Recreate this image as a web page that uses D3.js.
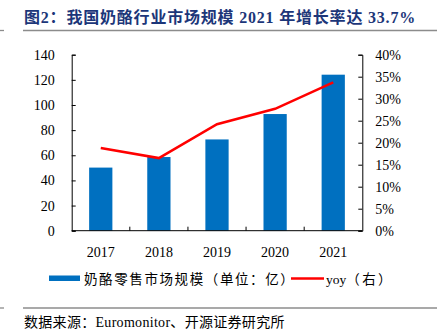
<!DOCTYPE html>
<html>
<head>
<meta charset="utf-8">
<script src="https://cdn.jsdelivr.net/npm/d3@7"></script>
<style>
  html, body { margin: 0; padding: 0; background: #fff; }
  svg { display: block; }
  .num { font-family: "Liberation Serif", "Times New Roman", serif; }
  .cjk { font-family: "Liberation Serif", "Noto Sans CJK SC", serif; }
</style>
</head>
<body>
<div id="chart"></div>
<script>
// cheese retail market size (100m CNY) and year-over-year growth
const years = ["2017", "2018", "2019", "2020", "2021"];
const marketSize = [50.2, 58.6, 72.6, 92.8, 124.1];
const yoy = [18.8, 16.5, 24.2, 27.7, 33.7];
const leftTicks = [0, 20, 40, 60, 80, 100, 120, 140];
const rightTicks = [0, 5, 10, 15, 20, 25, 30, 35, 40];

const W = 437, H = 335;
const plot = { left: 71.7, right: 362.3, top: 54.7, bottom: 230.7 };

const svg = d3.select("#chart").append("svg")
    .attr("width", W)
    .attr("height", H);

// --- TITLE + RULES ---
svg.append("text")
    .attr("class", "cjk")
    .attr("x", 24)
    .attr("y", 23)
    .attr("fill", "#1c3679")
    .attr("font-size", "16px")
    .attr("font-weight", "bold")
    .attr("letter-spacing", "0.8px")
    .text("图2：我国奶酪行业市场规模 2021 年增长率达 33.7%");

[30.5, 308].forEach(y => {
    svg.append("line").attr("x1", 0).attr("x2", 4).attr("y1", y).attr("y2", y)
        .attr("stroke", "#8c8c8c").attr("stroke-width", 1.3);
    svg.append("line").attr("x1", 23).attr("x2", W).attr("y1", y).attr("y2", y)
        .attr("stroke", "#8c8c8c").attr("stroke-width", 1.3);
});

// --- SCALES ---
const x = d3.scaleBand().domain(years).range([plot.left, plot.right]).paddingInner(0).paddingOuter(0);
const yL = d3.scaleLinear().domain([0, 140]).range([plot.bottom, plot.top]);
const yR = d3.scaleLinear().domain([0, 40]).range([plot.bottom, plot.top]);
const barW = x.bandwidth() * 0.4;

// --- BARS ---
svg.append("g")
    .selectAll("rect")
    .data(years)
    .join("rect")
    .attr("x", d => x(d) + (x.bandwidth() - barW) / 2)
    .attr("y", (d, i) => yL(marketSize[i]))
    .attr("width", barW)
    .attr("height", (d, i) => plot.bottom - yL(marketSize[i]))
    .attr("fill", "#0070c0");

// --- AXES ---
const axisStyle = g => {
    g.select(".domain").attr("stroke", "#000").attr("stroke-width", 1);
    g.selectAll(".tick line").attr("stroke", "#000");
    g.selectAll(".tick text")
        .attr("class", "num")
        .attr("fill", "#000")
        .attr("font-size", "14px");
};

svg.append("g")
    .attr("transform", `translate(${plot.left},0)`)
    .call(d3.axisLeft(yL).tickValues(leftTicks).tickSizeInner(-4).tickSizeOuter(-4).tickPadding(17))
    .call(axisStyle);

svg.append("g")
    .attr("transform", `translate(${plot.right},0)`)
    .call(d3.axisRight(yR).tickValues(rightTicks).tickSizeInner(-4).tickSizeOuter(-4).tickPadding(13)
        .tickFormat(d => d + "%"))
    .call(axisStyle);

// x axis: ticks sit on category boundaries, pointing up
const xAxis = svg.append("g").attr("transform", `translate(0,${plot.bottom})`);
xAxis.append("line")
    .attr("x1", plot.left).attr("x2", plot.right)
    .attr("stroke", "#000");
xAxis.selectAll("line.tk")
    .data(years.slice(1))
    .join("line")
    .attr("class", "tk")
    .attr("x1", d => x(d)).attr("x2", d => x(d))
    .attr("y1", 0).attr("y2", -4)
    .attr("stroke", "#000");
xAxis.selectAll("text")
    .data(years)
    .join("text")
    .attr("class", "num")
    .attr("x", d => x(d) + x.bandwidth() / 2)
    .attr("y", 26)
    .attr("text-anchor", "middle")
    .attr("font-size", "14px")
    .text(d => d);

// --- YOY LINE ---
const line = d3.line()
    .x((d, i) => x(years[i]) + x.bandwidth() / 2)
    .y(d => yR(d));

svg.append("path")
    .datum(yoy)
    .attr("d", line)
    .attr("fill", "none")
    .attr("stroke", "#ff0000")
    .attr("stroke-width", 2.5);

// --- LEGEND ---
const legend = svg.append("g");
legend.append("rect")
    .attr("x", 49).attr("y", 275.5)
    .attr("width", 31).attr("height", 5.5)
    .attr("fill", "#0070c0");
legend.append("text")
    .attr("class", "cjk")
    .attr("x", 84).attr("y", 284)
    .attr("font-size", "13.5px")
    .attr("letter-spacing", "1.6px")
    .text("奶酪零售市场规模（单位：亿）");
legend.append("line")
    .attr("x1", 291).attr("x2", 324)
    .attr("y1", 278.5).attr("y2", 278.5)
    .attr("stroke", "#ff0000").attr("stroke-width", 2.5);
const yoyLabel = legend.append("text")
    .attr("class", "cjk")
    .attr("x", 326).attr("y", 284)
    .attr("font-size", "13.5px");
yoyLabel.append("tspan").text("yoy");
yoyLabel.append("tspan").attr("letter-spacing", "2.4px").text("（右）");

// --- SOURCE ---
svg.append("text")
    .attr("class", "cjk")
    .attr("x", 24).attr("y", 327)
    .attr("font-size", "14px")
    .attr("letter-spacing", "0.3px")
    .text("数据来源：Euromonitor、开源证券研究所");
</script>
</body>
</html>
